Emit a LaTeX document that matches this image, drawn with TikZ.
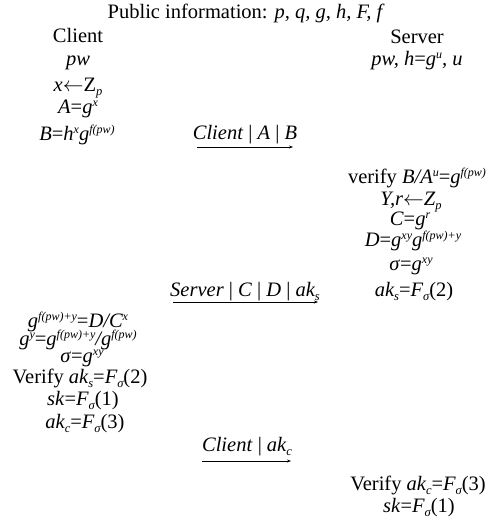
\documentclass[tikz,border=0pt]{standalone}
\usepackage{fontspec}
\setmainfont{Liberation Serif}
\usetikzlibrary{arrows.meta}
\newcommand{\up}[1]{\raisebox{7pt}{\fontsize{12}{13}\selectfont #1}}
\newcommand{\dn}[1]{\raisebox{-4pt}{\fontsize{12.5}{13}\selectfont #1}}
\newcommand{\ru}[1]{\textup{#1}}
\newcommand{\la}{\ensuremath{\leftarrow}}
\begin{document}
\begin{tikzpicture}[x=1pt,y=-1pt,
  txt/.style={font=\fontsize{20.5}{24}\selectfont\itshape, inner sep=0pt, anchor=base},
  msg/.style={-{Stealth[length=4pt,width=3pt]}, line width=0.6pt}]
\useasboundingbox (0,0) rectangle (489,520);
% title
\node[txt] (pub) at (245,18) {\ru{Public information:} p, q, g, h, F, f};
% client column
\node[txt] (cl) at (78,42) {\ru{Client}};
\node[txt] (c1) at (78,65) {pw};
\node[txt] (c2) at (78,91) {x\la\ru{Z}\dn{p}};
\node[txt] (c3) at (78,113) {A\ru{=}g\up{x}};
\node[txt] (c4) at (77,140) {B\ru{=}h\up{x}g\up{f(pw)}};
% server column
\node[txt] (sv) at (417,43) {\ru{Server}};
\node[txt] (s1) at (417,65) {pw, h\ru{=}g\up{u}, u};
% message 1
\node[txt] (m1) at (245,139) {Client \ru{|} A \ru{|} B};
\coordinate (m1a) at (197,147);
\coordinate (m1b) at (293,147);
\draw[msg] (m1a) -- (m1b);
% server computations
\node[txt] (s2) at (417,183) {\ru{verify} B/A\up{u}\ru{=}g\up{f(pw)}};
\node[txt] (s3) at (411,205) {Y,r\la Z\dn{p}};
\node[txt] (s4) at (410,225) {C\ru{=}g\up{r}};
\node[txt] (s5) at (413,246) {D\ru{=}g\up{xy}g\up{f(pw)+y}};
\node[txt] (s6) at (411,270) {σ\ru{=}g\up{xy}};
\node[txt] (s7) at (414,296) {ak\dn{s}\ru{=}F\dn{σ}\ru{(2)}};
% message 2
\node[txt] (m2) at (245,296) {Server \ru{|} C \ru{|} D \ru{|} ak\dn{s}};
\coordinate (m2a) at (173,302);
\coordinate (m2b) at (318,302);
\draw[msg] (m2a) -- (m2b);
% client computations
\node[txt] (c5) at (78,327) {g\up{f(pw)+y}\ru{=}D/C\up{x}};
\node[txt] (c6) at (78,345) {g\up{y}\ru{=}g\up{f(pw)+y}/g\up{f(pw)}};
\node[txt] (c7) at (82,362) {σ\ru{=}g\up{xy}};
\node[txt] (c8) at (80,383) {\ru{Verify} ak\dn{s}\ru{=}F\dn{σ}\ru{(2)}};
\node[txt] (c9) at (83,405) {sk\ru{=}F\dn{σ}\ru{(1)}};
\node[txt] (c10) at (85,428) {ak\dn{c}\ru{=}F\dn{σ}\ru{(3)}};
% message 3
\node[txt] (m3) at (247,451) {Client \ru{|} ak\dn{c}};
\coordinate (m3a) at (202,461);
\coordinate (m3b) at (291,461);
\draw[msg] (m3a) -- (m3b);
% server final
\node[txt] (s8) at (418,490) {\ru{Verify} ak\dn{c}\ru{=}F\dn{σ}\ru{(3)}};
\node[txt] (s9) at (419,512) {sk\ru{=}F\dn{σ}\ru{(1)}};
\end{tikzpicture}
\end{document}
